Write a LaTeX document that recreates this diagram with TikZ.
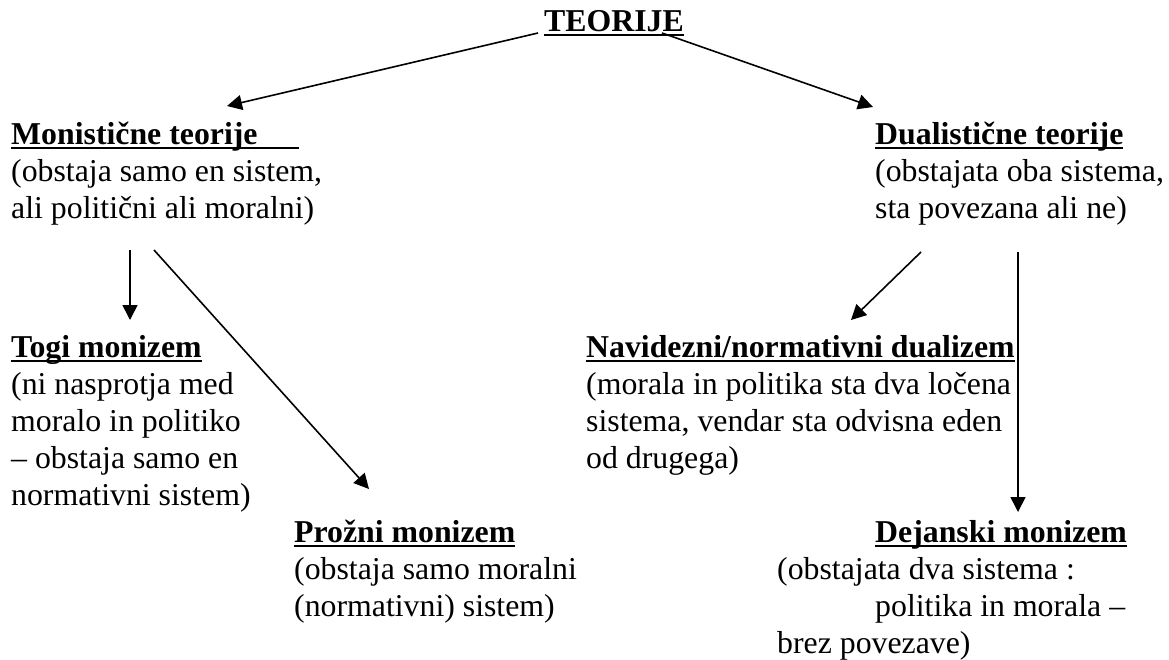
\documentclass[tikz,border=0pt]{standalone}
\usepackage{fontspec}
\setmainfont{Liberation Serif}
\usetikzlibrary{arrows.meta}
\newsavebox{\hdbox}
\newcommand{\hd}[1]{\sbox{\hdbox}{\bfseries #1}\rlap{\rule[-5pt]{\wd\hdbox}{2pt}}\usebox{\hdbox}}
\begin{document}
\begin{tikzpicture}
[x=1pt,y=-1pt,
block/.style={inner sep=0pt,anchor=base west,align=left,font=\fontsize{31.8}{37}\selectfont},
conn/.style={->,>={Triangle[length=15pt,width=15pt]},line width=1.6pt}]
\useasboundingbox (0,0) rectangle (1169,659);
%% blocks are placed at the baseline of their last line
\node (teo) [block] at (544,31) {\hd{TEORIJE}};
\node (mon) [block] at (11,218) {\hd{Monistične teorije\hspace{41pt}}\\(obstaja samo en sistem,\\ali politični ali moralni)};
\node (dua) [block] at (875,218) {\hd{Dualistične teorije}\\(obstajata oba sistema,\\sta povezana ali ne)};
%%
\node (tog) [block] at (11,505) {\hd{Togi monizem}\\(ni nasprotja med\\moralo in politiko\\-- obstaja samo en\\normativni sistem)};
\node (pro) [block] at (294,616) {\hd{Prožni monizem}\\(obstaja samo moralni\\(normativni) sistem)};
\node (nav) [block] at (586,468) {\hd{Navidezni/normativni dualizem}\\(morala in politika sta dva ločena\\sistema, vendar sta odvisna eden\\od drugega)};
\node (dej) [block] at (777,653) {\hspace*{98pt}\hd{Dejanski monizem}\\(obstajata dva sistema :\\\hspace*{98pt}politika in morala --\\brez povezave)};
%%
\draw[conn] ([shift={(-6,2)}]teo.base west) -- ([shift={(216,-112)}]mon.base west);
\draw[conn] ([shift={(118,2)}]teo.base west) -- ([shift={(-2,-111)}]dua.base west);
\draw[conn] ([shift={(119,32)}]mon.base west) -- ([shift={(119,-185)}]tog.base west);
\draw[conn] ([shift={(143,32)}]mon.base west) -- ([shift={(75,-127)}]pro.base west);
\draw[conn] ([shift={(46,34)}]dua.base west) -- ([shift={(265,-148)}]nav.base west);
\draw[conn] ([shift={(143,34)}]dua.base west) -- ([shift={(241,-141)}]dej.base west);
\end{tikzpicture}
\end{document}
